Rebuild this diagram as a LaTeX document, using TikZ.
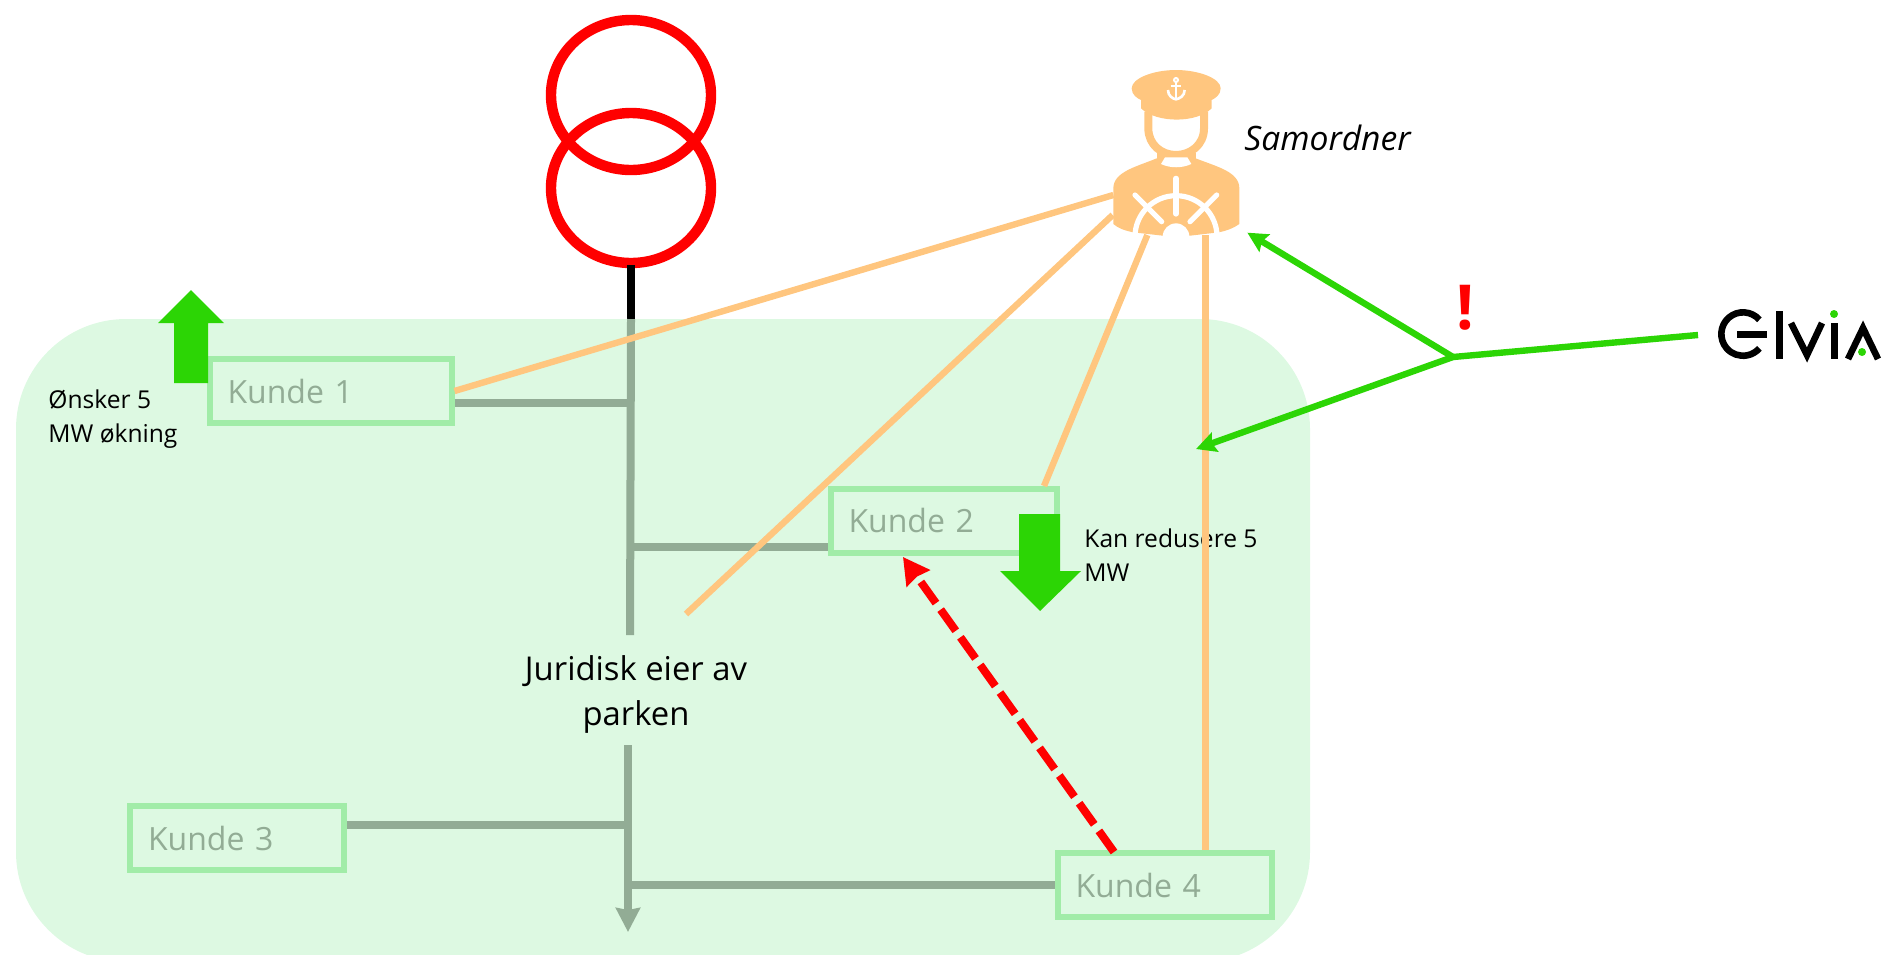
\documentclass[tikz,border=0pt]{standalone}
\usepackage{fontspec}
\setmainfont{Open Sans}
\usetikzlibrary{arrows.meta,positioning}
\definecolor{parkgreen}{HTML}{DDF9E2}
\definecolor{boxgreen}{HTML}{A1ECA8}
\definecolor{busgrey}{HTML}{92AC95}
\definecolor{samorange}{HTML}{FFC67F}
\definecolor{elviagreen}{HTML}{2CD505}
\definecolor{trafored}{HTML}{FF0000}
\tikzset{
	kundebox/.style={draw=boxgreen,line width=3pt,minimum height=32pt,text width=#1,inner xsep=9pt,align=left,text=busgrey,font=\fontsize{16}{19}\selectfont},
	busline/.style={color=busgrey,line width=4pt},
	tapline/.style={color=busgrey,line width=4pt},
	sambind/.style={color=samorange,line width=3.2pt},
	varsel/.style={color=elviagreen,line width=3.2pt},
	vararrow/.style={varsel,-{Stealth[width=10pt,length=10pt,inset=1.5pt]}},
	flytt/.style={color=trafored,line width=4pt,dash pattern=on 13pt off 4pt,-{Stealth[width=14pt,length=13pt,inset=1pt]}},
	wicon/.style={color=white,line width=2.6pt,line cap=round},
	smalltext/.style={align=left,inner sep=0,font=\fontsize{12.3}{17}\selectfont},
	bigtext/.style={align=center,inner sep=0,font=\fontsize{16.4}{22.5}\selectfont}
}

\begin{document}
\begin{tikzpicture}[x=0.5pt,y=-0.5pt]
		\useasboundingbox (0,0) rectangle (1888,954);

		% parken
		\begin{scope}
			\clip (0,0) rectangle (1888,954);
			\fill[parkgreen,rounded corners=55pt] (16,319) rectangle (1310,962);
		\end{scope}

		% trafo
		\draw[trafored,line width=5.2pt] (631,95) ellipse (80 and 75);
		\draw[trafored,line width=5.2pt] (631,188) ellipse (80 and 75);
		\coordinate (trafo) at (631,265);
		\coordinate (park) at (631,319);
		\coordinate (busstopp) at (630,635);
		\coordinate (busstart) at (628,745);
		\coordinate (busend) at (628,932);
		\draw[color=black,line width=4pt] (trafo) -- (park);
		\draw[busline] (park) -- (busstopp);
		\draw[busline,-{Stealth[width=12pt,length=12pt,inset=1pt]}] (busstart) -- (busend);

		\node[kundebox=103pt] (kunde1) at (330.5,391) {Kunde 1};
		\node[kundebox=95pt] (kunde2) at (943.5,520.5) {Kunde 2};
		\node[kundebox=89pt] (kunde3) at (237,838) {Kunde 3};
		\node[kundebox=89pt] (kunde4) at (1164.5,885) {Kunde 4};

		\coordinate (bus1) at (630,403);
		\coordinate (bus2) at (630,547);
		\coordinate (bus3) at (628,825);
		\coordinate (bus4) at (628,885);
		\draw[tapline] (kunde1.east |- bus1) -- (bus1);
		\draw[tapline] (kunde2.west |- bus2) -- (bus2);
		\draw[tapline] (kunde3.east |- bus3) -- (bus3);
		\draw[tapline] (kunde4.west |- bus4) -- (bus4);

		% opp og ned
		\fill[elviagreen] (191,290) -- (224,323) -- (208,323) -- (208,383) -- (174,383) -- (174,323) -- (158,323) -- cycle;
		\fill[elviagreen] (1040,611) -- (1081,571) -- (1060,571) -- (1060,514) -- (1019,514) -- (1019,571) -- (1000,571) -- cycle;

		\node[smalltext,anchor=north west] (onske) at (48,389) {Ønsker 5\\MW økning};
		\node[smalltext,anchor=north west] (reduksjon) at (1084,528) {Kan redusere 5\\MW};
		\node[bigtext] (eier) at (636,694) {Juridisk eier av\\parken};
		\node[anchor=base west,inner sep=0,font=\itshape\fontsize{16.8}{20}\selectfont] (samordner) at (1244,150) {Samordner};
		\node[anchor=base,inner sep=0,text=trafored,font=\bfseries\fontsize{31}{36}\selectfont] (utrop) at (1465,329) {!};

		% samordneren
		\begin{scope}[shift={(1050,40)},x=0.16667pt,y=-0.16667pt]
			\coordinate (mann1) at (190,465);
			\coordinate (mann2) at (188,525);
			\coordinate (mann3) at (292,585);
			\coordinate (mann4) at (466,585);
			\coordinate (mann5) at (592,578);
			\fill[samorange] (245,145) .. controls (245,115) and (310,90) .. (378,90) .. controls (446,90) and (512,115) .. (512,145) .. controls (512,165) and (495,175) .. (485,180) -- (485,205) .. controls (440,250) and (320,250) .. (273,205) -- (273,180) .. controls (262,175) and (245,165) .. (245,145) -- cycle;
			\draw[samorange,line width=4pt] (295,215) -- (295,265) .. controls (295,315) and (335,345) .. (378,345) .. controls (421,345) and (462,315) .. (462,265) -- (462,215);
			\fill[samorange] (320,340) rectangle (437,360);
			\fill[samorange] (320,355) .. controls (260,380) and (190,395) .. (190,445) -- (190,552) .. controls (205,565) and (225,572) .. (250,577) -- (338,587) -- (420,587) -- (506,577) .. controls (530,572) and (550,565) .. (568,552) -- (568,445) .. controls (568,395) and (500,380) .. (437,355) -- cycle;
			\fill[white] (333,372) .. controls (360,385) and (396,385) .. (424,372) -- (412,352) -- (345,352) -- cycle;
			\draw[white,line width=2.6pt] (255,590) arc[start angle=180,end angle=360,radius=123];
			\fill[white] (338,590) arc[start angle=180,end angle=360,radius=40] -- cycle;
			\draw[wicon] (378,415) -- (378,522);
			\draw[wicon] (255,465) -- (335,545);
			\draw[wicon] (500,465) -- (420,545);
			% anker
			\draw[white,line width=1pt] (378,120) circle (6);
			\draw[white,line width=1.1pt] (378,126) -- (378,176);
			\draw[white,line width=1.1pt] (362,137) -- (394,137);
			\draw[white,line width=1.3pt] (354,150) .. controls (354,168) and (368,176) .. (378,178) .. controls (388,176) and (404,168) .. (404,150);
		\end{scope}

		% samordner til kundene
		\draw[sambind] (kunde1.east) -- (mann1);
		\coordinate (eierlinje) at (686,614);
		\draw[sambind] (eierlinje) -- (mann2);
		\coordinate (k2topp) at (1044,486);
		\draw[sambind] (k2topp) -- (mann3);
		\draw[sambind] (kunde4.north -| mann4) -- (mann4);

		% flytting av effekt
		\coordinate (k2kant) at (903,557);
		\coordinate (k4topp) at (1114,852);
		\draw[flytt] (k4topp) -- (k2kant);

		% varsel
		\coordinate (varsel) at (1453,357);
		\coordinate (orangepil) at (1196,449);
		\coordinate (logo) at (1698,335);
		\draw[varsel] (varsel) -- (logo);
		\draw[vararrow] (varsel) -- (mann5);
		\draw[vararrow] (varsel) -- (orangepil);

		% logo
		\draw[black,line width=3.3pt] (1759.4,319.8) arc[start angle=319,end angle=41,radius=21.7];
		\fill[black] (1737,331) rectangle (1767,338);
		\fill[black] (1776,311) rectangle (1783,359);
		\draw[black,line width=3.3pt,line join=miter] (1791,323) -- (1807,355) -- (1822,323);
		\fill[black] (1831,323) rectangle (1838,359);
		\fill[elviagreen] (1834,314) circle (4);
		\draw[black,line width=3.3pt,line join=miter] (1848,359) -- (1863,328) -- (1878,359);
		\fill[elviagreen] (1862,352) circle (4);

	\end{tikzpicture}
\end{document}
